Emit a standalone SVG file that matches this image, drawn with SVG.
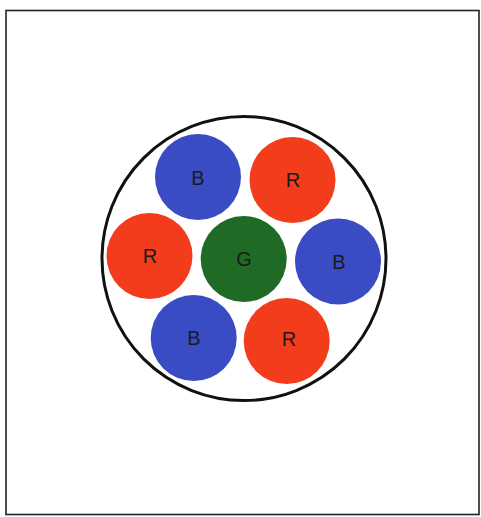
<svg xmlns="http://www.w3.org/2000/svg" width="481" height="517" viewBox="0 0 481 517">
<style>
.frame{fill:#fff;stroke:#222;stroke-width:1.6}
.outer{fill:#fff;stroke:#111;stroke-width:3}
.b{fill:#3a4cc4}
.r{fill:#f23c1c}
.g{fill:#1f6a24}
.t{font-family:"Liberation Sans",Arial,sans-serif;font-size:20px;fill:#1a1a1a;text-anchor:middle;dominant-baseline:central}
</style>
<rect class="frame" x="6" y="10.5" width="473" height="504"/>
<circle class="outer" cx="244" cy="258.5" r="142"/>
<g id="n-b1"><circle class="b" cx="198" cy="177" r="43"/><text class="t" x="198" y="178">B</text></g>
<g id="n-r1"><circle class="r" cx="292.5" cy="180" r="43"/><text class="t" x="293" y="180">R</text></g>
<g id="n-r2"><circle class="r" cx="149.5" cy="256" r="43"/><text class="t" x="150" y="256">R</text></g>
<g id="n-g"><circle class="g" cx="243.7" cy="259" r="43"/><text class="t" x="244" y="259">G</text></g>
<g id="n-b2"><circle class="b" cx="338" cy="261.5" r="43"/><text class="t" x="339" y="262">B</text></g>
<g id="n-b3"><circle class="b" cx="193.7" cy="338" r="43"/><text class="t" x="194" y="338">B</text></g>
<g id="n-r3"><circle class="r" cx="286.7" cy="341" r="43"/><text class="t" x="289" y="339">R</text></g>
<g id="connectors"></g>
</svg>
